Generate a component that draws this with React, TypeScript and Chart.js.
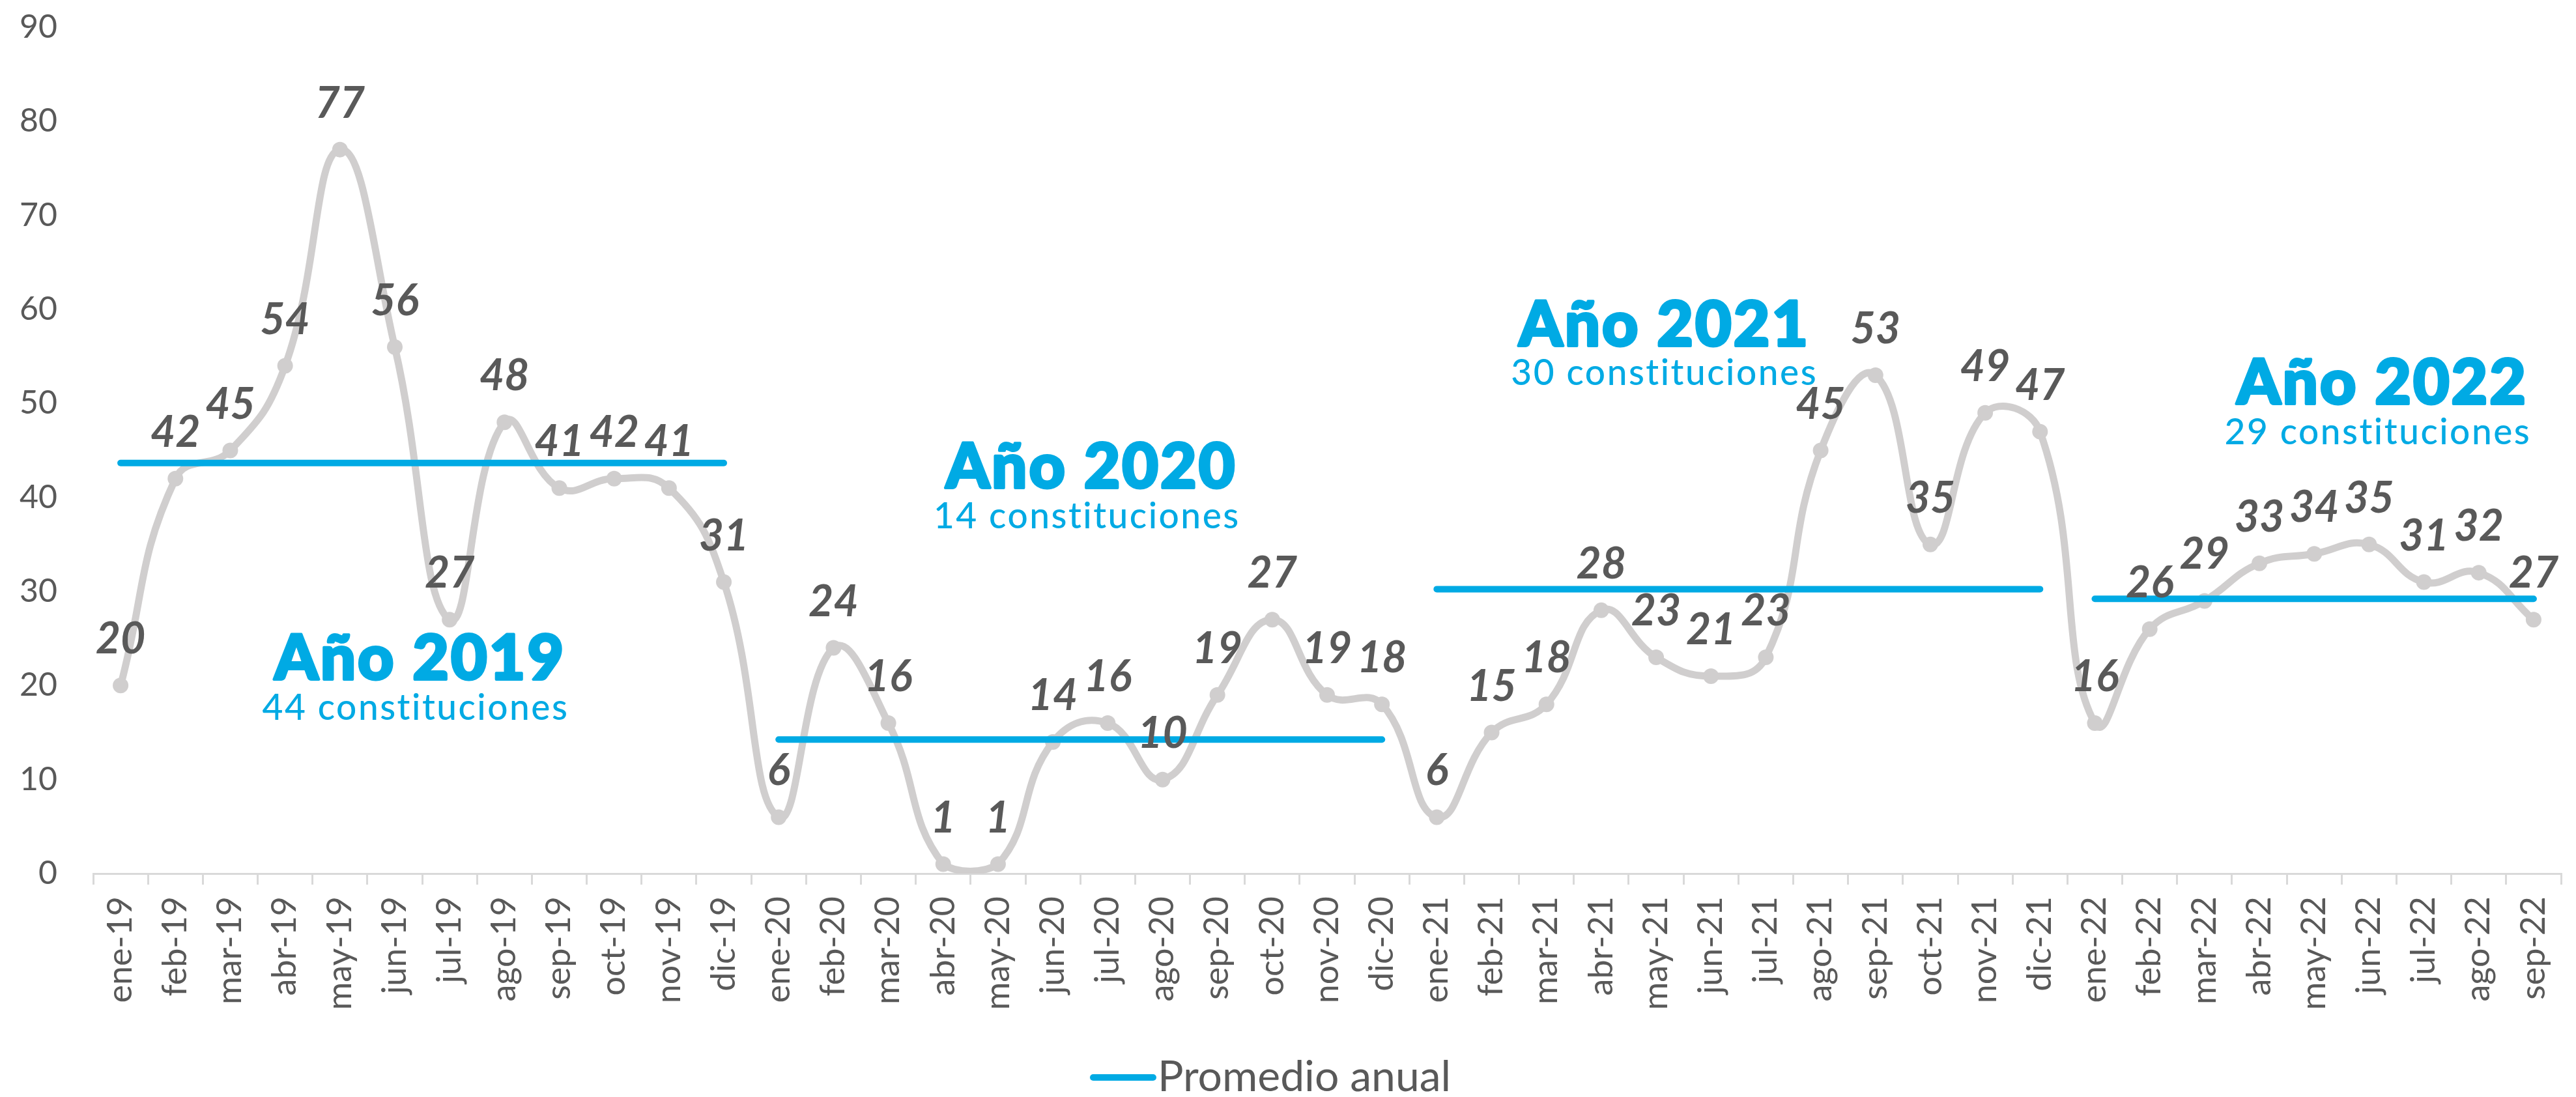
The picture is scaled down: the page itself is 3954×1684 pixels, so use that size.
import { useEffect, useRef } from 'react';
import { Chart, registerables } from 'chart.js';

Chart.register(...registerables);

// ---------- data ----------
const categories = [
  'ene-19', 'feb-19', 'mar-19', 'abr-19', 'may-19', 'jun-19', 'jul-19', 'ago-19', 'sep-19', 'oct-19', 'nov-19', 'dic-19',
  'ene-20', 'feb-20', 'mar-20', 'abr-20', 'may-20', 'jun-20', 'jul-20', 'ago-20', 'sep-20', 'oct-20', 'nov-20', 'dic-20',
  'ene-21', 'feb-21', 'mar-21', 'abr-21', 'may-21', 'jun-21', 'jul-21', 'ago-21', 'sep-21', 'oct-21', 'nov-21', 'dic-21',
  'ene-22', 'feb-22', 'mar-22', 'abr-22', 'may-22', 'jun-22', 'jul-22', 'ago-22', 'sep-22',
];

const constituciones = [
  20, 42, 45, 54, 77, 56, 27, 48, 41, 42, 41, 31,
  6, 24, 16, 1, 1, 14, 16, 10, 19, 27, 19, 18,
  6, 15, 18, 28, 23, 21, 23, 45, 53, 35, 49, 47,
  16, 26, 29, 33, 34, 35, 31, 32, 27,
];

const yearSuffixes = ['19', '20', '21', '22'];
const yearAverages = [43.67, 14.25, 30.25, 29.22];
const yearTitles = ['Año 2019', 'Año 2020', 'Año 2021', 'Año 2022'];
const yearSubtitles = ['44 constituciones', '14 constituciones', '30 constituciones', '29 constituciones'];

const legendLabel = 'Promedio anual';
const yMin = 0;
const yMax = 90;
const yStep = 10;

// ---------- layout / style ----------
const W = 3954;
const H = 1684;
const BLUE = '#00AAE4';
const GRAY_LINE = '#D0CECE';
const TEXT = '#595959';
const AXIS = '#D9D9D9';

// annotation anchors in (category index, value) units
const annotationAnchors = [
  { tx: 5.46, ty: 20.65, sx: 5.38, sy: 16.37 },
  { tx: 17.7, ty: 41.03, sx: 17.62, sy: 36.75 },
  { tx: 28.15, ty: 56.15, sx: 28.15, sy: 51.94 },
  { tx: 41.24, ty: 49.94, sx: 41.16, sy: 45.65 },
];

const yearOf = (label: string) => label.slice(-2);
const promedioData = categories.map((c) => yearAverages[yearSuffixes.indexOf(yearOf(c))]);

function makeLegendMarker() {
  const c = document.createElement('canvas');
  c.width = 104;
  c.height = 12;
  const g = c.getContext('2d')!;
  g.strokeStyle = BLUE;
  g.lineWidth = 10;
  g.lineCap = 'round';
  g.beginPath();
  g.moveTo(6, 6);
  g.lineTo(98, 6);
  g.stroke();
  return c;
}

const labelsPlugin = {
  id: 'customLabels',
  afterDatasetsDraw(chart: any) {
    const ctx = chart.ctx as CanvasRenderingContext2D;
    const meta = chart.getDatasetMeta(0);
    const xs = chart.scales.x;
    const ys = chart.scales.y;
    ctx.save();
    // data labels
    ctx.font = 'italic 700 66px Lato';
    ctx.fillStyle = TEXT;
    ctx.textAlign = 'center';
    ctx.textBaseline = 'alphabetic';
    meta.data.forEach((pt: any, i: number) => {
      ctx.fillText(String(constituciones[i]), pt.x, pt.y - 49);
    });
    // year annotations
    ctx.fillStyle = BLUE;
    ctx.strokeStyle = BLUE;
    ctx.lineJoin = 'round';
    annotationAnchors.forEach((a, i) => {
      ctx.font = '900 96px Lato';
      (ctx as any).letterSpacing = '3px';
      const tx = xs.getPixelForValue(a.tx);
      const ty = ys.getPixelForValue(a.ty);
      ctx.lineWidth = 4;
      ctx.strokeText(yearTitles[i], tx, ty);
      ctx.fillText(yearTitles[i], tx, ty);
      ctx.font = '500 55px Lato';
      (ctx as any).letterSpacing = '2.5px';
      ctx.fillText(yearSubtitles[i], xs.getPixelForValue(a.sx), ys.getPixelForValue(a.sy));
    });
    (ctx as any).letterSpacing = '0px';
    ctx.restore();
  },
};

export default function App() {
  const ref = useRef<HTMLCanvasElement | null>(null);

  useEffect(() => {
    if (!ref.current) return;
    const marker = makeLegendMarker();
    const chart = new Chart(ref.current, {
      type: 'line',
      data: {
        labels: categories,
        datasets: [
          {
            label: 'Constituciones',
            data: constituciones,
            borderColor: GRAY_LINE,
            backgroundColor: GRAY_LINE,
            borderWidth: 11,
            tension: 0.45,
            pointRadius: 12,
            pointBorderWidth: 0,
            pointBackgroundColor: GRAY_LINE,
            order: 2,
          },
          {
            label: legendLabel,
            data: promedioData,
            borderColor: BLUE,
            backgroundColor: BLUE,
            borderWidth: 10,
            borderCapStyle: 'round',
            pointRadius: 0,
            tension: 0,
            order: 1,
            segment: {
              borderColor: (c: any) =>
                yearOf(categories[c.p0DataIndex]) !== yearOf(categories[c.p1DataIndex]) ? 'rgba(0,0,0,0)' : BLUE,
            },
          },
        ],
      },
      options: {
        responsive: false,
        maintainAspectRatio: false,
        devicePixelRatio: 1,
        animation: false,
        layout: { padding: { top: 42, right: 23, bottom: -13, left: 0 } },
        plugins: {
          tooltip: { enabled: false },
          title: { display: false },
          legend: {
            display: true,
            position: 'bottom',
            labels: {
              usePointStyle: true,
              padding: 0,
              color: TEXT,
              font: { family: 'Lato', size: 66 },
              generateLabels: () => [
                {
                  text: legendLabel,
                  pointStyle: marker as any,
                  fillStyle: BLUE,
                  strokeStyle: BLUE,
                  lineWidth: 0,
                  hidden: false,
                  datasetIndex: 1,
                  fontColor: TEXT,
                } as any,
              ],
            },
          },
        },
        scales: {
          x: {
            type: 'category',
            offset: true,
            grid: {
              display: true,
              drawOnChartArea: false,
              drawTicks: true,
              tickLength: 17,
              color: AXIS,
              lineWidth: 3,
              offset: true,
            },
            border: { display: true, color: AXIS, width: 3 },
            ticks: {
              autoSkip: false,
              maxRotation: 90,
              minRotation: 90,
              padding: 18,
              color: TEXT,
              font: { family: 'Lato', size: 52 },
            },
            afterFit: (s: any) => {
              s.height = 280;
              s.paddingLeft = 0;
              s.paddingRight = 0;
            },
          },
          y: {
            min: yMin,
            max: yMax,
            grid: { display: false, drawTicks: false },
            border: { display: false },
            ticks: {
              stepSize: yStep,
              padding: 55,
              color: TEXT,
              font: { family: 'Lato', size: 50 },
            },
            afterFit: (s: any) => {
              s.width = 143;
              s.paddingTop = 0;
              s.paddingBottom = 0;
            },
          },
        },
      },
      plugins: [labelsPlugin],
    });
    return () => chart.destroy();
  }, []);

  return (
    <div style={{ position: 'fixed', left: 0, top: 0, width: W, height: H, background: '#fff' }}>
      <canvas ref={ref} width={W} height={H} style={{ width: W, height: H, display: 'block' }} />
    </div>
  );
}
